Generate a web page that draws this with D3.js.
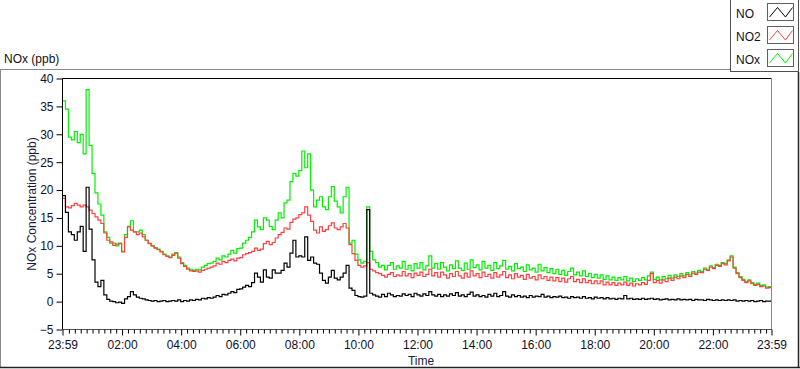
<!DOCTYPE html>
<html>
<head>
<meta charset="utf-8">
<script src="https://cdn.jsdelivr.net/npm/d3@7"></script>
<style>
  body { margin: 0; background: #fff; }
  svg text { font-family: "Liberation Sans", Arial, sans-serif; }
</style>
</head>
<body>
<div id="chart"></div>
<script>
// one sample every 6 minutes, from 23:59 to 23:59 the next day
var startTime = "2000-01-01 23:59";
var stepMinutes = 6;

var noValues = [
  19.0,16.0,12.5,12.0,11.0,12.5,13.5,9.0,20.5,13.0,
  7.5,3.5,2.7,3.8,1.2,0.4,0.1,0.0,-0.2,-0.1,
  -0.3,0.5,0.9,1.8,1.2,0.8,0.6,0.5,0.3,0.2,
  0.1,0.2,0.0,0.1,0.2,0.0,0.1,0.2,0.1,0.3,
  0.0,0.2,0.1,0.3,0.2,0.4,0.3,0.6,0.5,0.7,
  0.6,0.8,1.1,0.9,1.3,1.2,1.5,1.8,1.6,2.2,
  2.3,2.6,2.9,2.7,3.4,5.1,4.4,3.5,5.7,4.4,
  4.2,5.7,5.1,5.1,5.6,6.9,6.2,8.7,11.0,8.0,
  8.2,8.0,11.6,7.4,8.0,6.9,6.7,5.1,3.8,3.3,
  4.4,5.6,4.2,3.9,4.4,5.1,6.5,2.4,2.0,1.1,
  0.9,0.8,1.0,16.5,1.5,1.2,1.0,0.8,1.3,0.9,
  1.5,1.2,0.9,1.1,1.0,1.4,1.1,1.3,0.9,1.5,
  1.2,1.0,1.4,1.1,1.8,1.2,1.0,1.3,0.9,1.2,
  1.0,1.4,1.1,1.6,1.0,1.2,0.9,1.3,1.7,1.0,
  1.2,0.9,1.1,0.8,1.3,1.0,1.5,0.9,1.1,1.8,
  1.0,0.8,1.2,0.9,1.1,0.8,1.0,0.7,1.1,0.8,
  1.0,0.9,1.3,0.8,1.0,0.7,0.9,0.8,1.0,0.7,
  0.8,0.6,0.9,0.7,0.8,0.6,0.9,0.6,0.7,0.5,
  0.8,0.6,0.7,0.5,0.7,0.5,0.6,0.4,0.6,0.5,
  1.1,0.5,0.6,0.4,0.5,0.4,0.6,0.4,0.5,0.6,
  0.4,0.5,0.3,0.4,0.5,0.3,0.4,0.3,0.5,0.3,
  0.4,0.3,0.4,0.2,0.4,0.3,0.3,0.2,0.4,0.3,
  0.2,0.3,0.2,0.3,0.2,0.3,0.2,0.3,0.1,0.2,
  0.1,0.2,0.1,0.2,0.0,0.1,0.2,0.0,0.1,0.1,
  0.0
];

var no2Values = [
  18.5,17.0,16.8,17.2,17.6,17.3,17.0,17.3,17.0,16.4,
  15.8,15.2,14.6,14.0,12.3,11.0,10.7,10.1,10.3,10.4,
  8.9,11.5,13.4,12.8,12.5,12.0,12.3,11.6,11.0,10.4,
  10.0,9.6,9.3,8.9,8.4,8.1,7.9,8.3,8.7,7.8,
  6.8,6.3,5.8,5.5,5.4,5.5,5.3,5.6,5.8,6.0,
  6.2,6.4,6.9,6.7,7.2,7.0,7.4,7.6,7.3,7.8,
  7.9,8.4,8.6,8.8,9.0,9.6,9.2,9.4,10.4,10.8,
  10.2,10.6,11.4,12.0,12.4,13.2,13.0,14.2,14.8,15.0,
  15.6,15.9,17.0,15.5,14.4,12.8,12.3,13.4,12.6,12.9,
  13.6,14.1,13.2,12.9,13.4,14.0,13.2,10.2,8.6,7.4,
  6.5,6.2,6.4,7.0,5.8,5.5,5.2,5.0,4.7,4.4,
  4.9,5.2,4.5,4.8,4.6,5.4,4.6,5.0,4.3,5.1,
  4.7,5.3,4.5,4.9,5.8,4.6,5.2,4.4,5.3,4.8,
  4.2,5.0,4.5,5.4,4.6,4.2,5.1,4.4,5.5,4.6,
  5.0,4.3,5.3,4.5,4.9,4.2,5.2,4.4,4.8,5.4,
  4.3,4.8,4.1,5.0,4.4,4.7,4.0,4.9,4.2,4.5,
  3.9,4.8,4.1,4.5,3.8,4.4,3.7,4.3,3.6,4.2,
  3.5,4.1,4.5,3.6,4.0,3.4,4.1,3.4,3.8,3.2,
  3.7,3.2,3.7,3.0,3.5,3.0,3.4,2.9,3.3,3.0,
  3.5,2.9,3.3,2.8,3.2,3.0,3.4,3.1,3.8,5.0,
  3.4,3.8,3.3,3.9,3.6,4.2,3.8,4.4,4.1,4.6,
  4.3,4.9,4.5,5.1,4.9,5.3,5.2,5.8,5.6,6.2,
  5.9,6.5,6.3,6.8,6.6,7.3,8.0,6.0,5.0,4.3,
  3.8,3.4,3.7,3.2,2.9,3.1,2.7,2.8,2.4,2.5,
  2.2
];

var noxValues = [
  36.0,34.5,29.5,29.0,30.5,28.5,30.0,26.5,38.0,28.0,
  23.0,19.5,17.5,15.5,12.5,11.5,10.5,10.5,10.0,10.5,
  9.0,12.0,13.5,14.5,12.5,12.5,12.8,12.0,11.0,10.5,
  10.0,9.7,9.4,9.0,8.5,8.2,8.0,8.5,8.8,8.0,
  7.0,6.5,6.0,5.8,5.6,5.8,5.7,6.2,6.5,6.8,
  6.9,7.2,7.8,7.5,8.2,8.0,8.5,9.2,8.7,9.5,
  9.6,10.5,11.0,11.5,12.5,14.6,13.4,12.9,15.0,14.6,
  13.5,12.9,14.6,15.9,15.0,17.7,18.2,21.5,23.0,22.5,
  23.5,27.0,24.0,26.5,20.0,17.0,18.2,18.8,17.0,16.5,
  18.8,20.6,18.0,17.0,15.9,18.8,20.5,10.5,11.0,8.5,
  7.5,6.9,7.2,17.0,9.0,7.5,7.0,6.2,6.5,5.7,
  6.5,7.0,5.8,6.4,6.0,7.2,5.8,6.5,5.5,6.8,
  6.0,7.0,5.7,6.4,8.2,6.0,6.8,5.8,7.0,6.2,
  5.5,6.6,5.9,7.3,6.0,5.6,6.9,5.8,7.5,6.1,
  6.6,5.7,7.2,6.0,6.5,5.6,7.0,5.9,6.4,7.4,
  5.8,6.3,5.5,6.8,5.9,6.2,5.4,6.6,5.7,6.0,
  5.3,6.7,5.5,6.1,5.2,5.9,5.0,5.8,4.9,5.6,
  4.7,5.4,6.0,4.8,5.3,4.6,5.5,4.5,5.0,4.3,
  4.9,4.2,4.8,4.0,4.6,3.9,4.4,3.8,4.3,3.9,
  4.5,3.7,4.2,3.6,4.1,3.8,4.3,3.9,4.6,5.3,
  4.0,4.4,3.9,4.5,4.1,4.7,4.2,4.8,4.5,5.0,
  4.6,5.2,4.8,5.4,5.1,5.6,5.4,6.0,5.8,6.4,
  6.1,6.7,6.5,7.0,6.8,7.5,8.2,6.2,5.2,4.5,
  4.0,3.6,3.9,3.4,3.1,3.3,2.9,3.0,2.6,2.7,
  2.4
];

var seriesNames = ["NO", "NO2", "NOx"];
var yTicks = [-5, 0, 5, 10, 15, 20, 25, 30, 35, 40];
var xTickLabels = ["23:59", "02:00", "04:00", "06:00", "08:00", "10:00", "12:00",
                   "14:00", "16:00", "18:00", "20:00", "22:00", "23:59"];

var chartTitle = "NOx (ppb)";
var yTitle = "NOx Concentration (ppb)";
var xTitle = "Time";

var W = 800, H = 369;
var plot = {left: 62.5, top: 78.5, right: 771.5, bottom: 329.5};
var colors = {"NO": "#000000", "NO2": "#ff4040", "NOx": "#00f000"};
var font = '"Liberation Sans", Arial, sans-serif';

var parse = d3.timeParse("%Y-%m-%d %H:%M");
var t0 = parse(startTime);
var t1 = d3.timeDay.offset(t0, 1);

function series(values) {
  return values.map(function(v, i) {
    return {t: d3.timeMinute.offset(t0, i * stepMinutes), v: v};
  });
}

var x = d3.scaleTime().domain([t0, t1]).range([plot.left, plot.right]);
var y = d3.scaleLinear().domain([-5, 40]).range([plot.bottom, plot.top]);

var svg = d3.select("#chart").append("svg")
  .attr("width", W).attr("height", H)
  .style("display", "block");

svg.append("rect").attr("width", W).attr("height", H).attr("fill", "#fff");

// panel border (sunken look)
svg.append("line").attr("x1", 0).attr("x2", 731).attr("y1", 69.5).attr("y2", 69.5).attr("stroke", "#8a8a8a");
svg.append("line").attr("x1", 0.5).attr("x2", 0.5).attr("y1", 69).attr("y2", 368).attr("stroke", "#8a8a8a");
svg.append("line").attr("x1", 0).attr("x2", 800).attr("y1", 367.5).attr("y2", 367.5).attr("stroke", "#222").attr("stroke-width", 1.5);
svg.append("line").attr("x1", 798.5).attr("x2", 798.5).attr("y1", 72).attr("y2", 368).attr("stroke", "#222").attr("stroke-width", 1.5);

svg.append("text").attr("x", 4).attr("y", 63)
  .attr("font-size", 12).attr("fill", "#111").text(chartTitle);

// clip
svg.append("clipPath").attr("id", "plotclip").append("rect")
  .attr("x", plot.left).attr("y", plot.top)
  .attr("width", plot.right - plot.left).attr("height", plot.bottom - plot.top);

var valueline = d3.line()
  .x(function(d) { return x(d.t); })
  .y(function(d) { return y(d.v); })
  .curve(d3.curveStepAfter);

var g = svg.append("g").attr("clip-path", "url(#plotclip)");
[["NOx", noxValues], ["NO2", no2Values], ["NO", noValues]].forEach(function(s) {
  g.append("path")
    .attr("d", valueline(series(s[1])))
    .attr("fill", "none")
    .attr("stroke", colors[s[0]])
    .attr("stroke-width", 1.2);
});

// frame
svg.append("line").attr("x1", plot.left).attr("x2", plot.right).attr("y1", plot.top).attr("y2", plot.top).attr("stroke", "#000");
svg.append("line").attr("x1", plot.left).attr("x2", plot.left).attr("y1", plot.top).attr("y2", plot.bottom).attr("stroke", "#000");
svg.append("line").attr("x1", plot.right).attr("x2", plot.right).attr("y1", plot.top).attr("y2", plot.bottom).attr("stroke", "#8a8a8a");
svg.append("line").attr("x1", plot.left).attr("x2", plot.right + 0.5).attr("y1", plot.bottom).attr("y2", plot.bottom).attr("stroke", "#555");

// y axis
var yAxis = d3.axisLeft(y).tickValues(yTicks).tickSize(6).tickPadding(3);
var ya = svg.append("g").attr("transform", "translate(" + plot.left + ",0)").call(yAxis);
ya.select(".domain").remove();
ya.selectAll("text").attr("font-size", 12).attr("font-family", font).attr("fill", "#101028");

// x axis, major ticks
var majorTimes = xTickLabels.map(function(l, i) {
  if (i === 0) return t0;
  return parse("2000-01-02 " + l);
});
var xAxis = d3.axisBottom(x).tickValues(majorTimes).tickSize(6).tickPadding(5)
  .tickFormat(function(d, i) { return xTickLabels[i]; });
var xa = svg.append("g").attr("transform", "translate(0," + plot.bottom + ")").call(xAxis);
xa.select(".domain").remove();
xa.selectAll("text").attr("font-size", 12).attr("font-family", font).attr("fill", "#101028");

// minor ticks every 12 minutes
var minorTimes = d3.timeMinute.every(12).range(d3.timeMinute.offset(t0, 2), t1)
  .filter(function(d) { return !(d.getMinutes() === 0 && d.getHours() % 2 === 0); });
var xMinor = d3.axisBottom(x).tickValues(minorTimes).tickSize(4).tickFormat("");
var xm = svg.append("g").attr("transform", "translate(0," + plot.bottom + ")").call(xMinor);
xm.select(".domain").remove();

svg.selectAll(".tick line").attr("stroke", "#000");

// axis titles
svg.append("text")
  .attr("transform", "translate(36," + ((plot.top + plot.bottom) / 2) + ") rotate(-90)")
  .attr("text-anchor", "middle").attr("font-size", 12).attr("fill", "#1a1a40")
  .text(yTitle);
svg.append("text")
  .attr("x", (plot.left + plot.right) / 2 + 4).attr("y", 365)
  .attr("text-anchor", "middle").attr("font-size", 12).attr("fill", "#1a1a40")
  .text(xTitle);

// legend
var lg = svg.append("g");
lg.append("rect").attr("x", 730.5).attr("y", -1).attr("width", 68).attr("height", 72.5)
  .attr("fill", "#fff").attr("stroke", "#505050");
var swatchLine = d3.line();
var zig = [[2, 13], [10, 3.5], [18, 13], [25, 3.5]];
seriesNames.forEach(function(name, i) {
  var top = 4 + i * 23;
  lg.append("text").attr("x", 736).attr("y", top + 13.5)
    .attr("font-size", 12).attr("fill", "#101028").text(name);
  lg.append("rect").attr("x", 767.5).attr("y", top - 0.5)
    .attr("width", 26).attr("height", 17)
    .attr("fill", "#fff").attr("stroke", "#606060");
  lg.append("path")
    .attr("d", swatchLine(zig.map(function(p) { return [767.5 + p[0], top + p[1]]; })))
    .attr("fill", "none").attr("stroke", colors[name]).attr("stroke-width", 1);
});
</script>
</body>
</html>
